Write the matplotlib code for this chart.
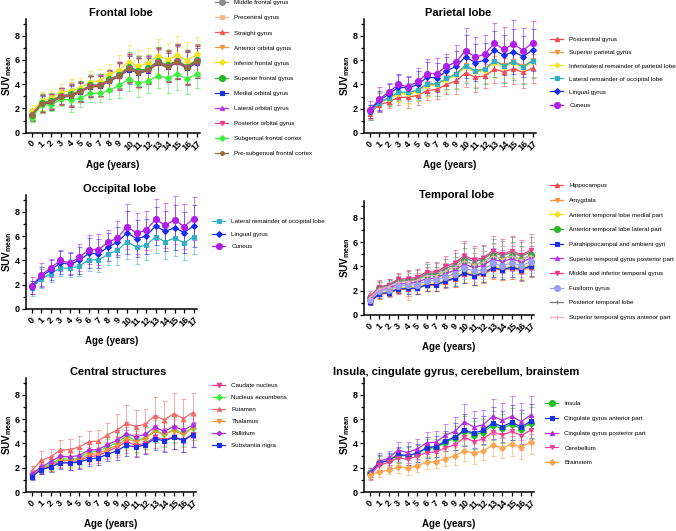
import matplotlib.pyplot as plt

plt.rcParams['font.family'] = ['Liberation Sans', 'DejaVu Sans']
plt.rcParams['mathtext.fontset'] = 'custom'
plt.rcParams['mathtext.rm'] = 'Liberation Sans'
plt.rcParams['mathtext.bf'] = 'Liberation Sans:bold'

ages = [0, 1, 2, 3, 4, 5, 6, 7, 8, 9, 10, 11, 12, 13, 14, 15, 16, 17]

# ---- Frontal lobe ----
frontal_labels = ["Middle frontal gyrus", "Precentral gyrus", "Straight gyrus",
                  "Anterior orbital gyrus", "Inferior frontal gyrus", "Superior frontal gyrus",
                  "Medial orbital gyrus", "Lateral orbital gyrus", "Posterior orbital gyrus",
                  "Subgenual frontal cortex", "Pre-subgenual frontal cortex"]
frontal_means = [
    [1.5, 2.45, 2.6, 3.05, 3.15, 3.4, 3.85, 3.9, 4.35, 4.75, 5.35, 5.05, 5.25, 5.85, 5.55, 5.9, 5.45, 5.95],
    [1.55, 2.5, 2.65, 3.1, 3.2, 3.45, 3.9, 3.95, 4.4, 4.8, 5.4, 5.1, 5.3, 5.85, 5.6, 5.95, 5.5, 6.0],
    [1.45, 2.4, 2.55, 3.0, 3.05, 3.35, 3.8, 3.85, 4.3, 4.65, 5.3, 5.0, 5.2, 5.8, 5.45, 5.85, 5.35, 5.85],
    [1.4, 2.35, 2.5, 2.95, 3.0, 3.3, 3.75, 3.8, 4.25, 4.6, 5.2, 4.9, 5.1, 5.7, 5.35, 5.75, 5.3, 5.75],
    [1.75, 2.6, 2.85, 3.35, 3.45, 3.7, 4.2, 4.3, 4.8, 5.15, 5.85, 5.5, 5.75, 6.35, 6.0, 6.4, 5.95, 6.45],
    [1.45, 2.45, 2.65, 3.05, 3.15, 3.45, 3.9, 3.95, 4.4, 4.75, 5.45, 5.1, 5.3, 5.9, 5.55, 5.95, 5.45, 6.0],
    [1.35, 2.35, 2.45, 2.95, 3.0, 3.35, 3.8, 3.85, 4.25, 4.65, 5.2, 4.95, 5.1, 5.75, 5.4, 5.8, 5.3, 5.75],
    [1.5, 2.4, 2.55, 3.0, 3.1, 3.4, 3.85, 3.9, 4.35, 4.7, 5.3, 5.0, 5.2, 5.8, 5.5, 5.85, 5.4, 5.85],
    [1.45, 2.4, 2.55, 3.0, 3.05, 3.35, 3.85, 3.9, 4.3, 4.7, 5.3, 4.95, 5.2, 5.8, 5.45, 5.9, 5.35, 5.9],
    [1.25, 2.25, 2.3, 2.75, 2.7, 2.85, 3.25, 3.25, 3.5, 3.9, 4.4, 4.1, 4.25, 4.7, 4.5, 4.8, 4.45, 4.8],
    [1.4, 2.4, 2.5, 2.95, 3.05, 3.35, 3.8, 3.85, 4.3, 4.65, 5.25, 4.95, 5.15, 5.75, 5.45, 5.85, 5.35, 5.85],
]
frontal_sd = [
    [0.45, 0.7, 0.6, 0.65, 0.95, 0.8, 0.85, 0.9, 0.8, 1.1, 1.15, 1.25, 1.1, 1.2, 1.25, 1.4, 1.4, 1.3],
    [0.5, 0.75, 0.65, 0.7, 0.95, 0.85, 0.9, 0.9, 0.85, 1.15, 1.2, 1.3, 1.15, 1.25, 1.3, 1.45, 1.4, 1.35],
    [0.45, 0.7, 0.6, 0.65, 0.9, 0.8, 0.85, 0.85, 0.8, 1.1, 1.15, 1.2, 1.1, 1.15, 1.2, 1.4, 1.35, 1.3],
    [0.45, 0.7, 0.6, 0.7, 0.9, 0.8, 0.85, 0.85, 0.85, 1.1, 1.1, 1.2, 1.1, 1.15, 1.2, 1.35, 1.35, 1.25],
    [0.5, 0.75, 0.6, 0.7, 0.95, 0.85, 0.9, 0.95, 0.85, 1.25, 1.35, 1.35, 1.25, 1.4, 1.4, 1.6, 1.5, 1.45],
    [0.4, 0.7, 0.6, 0.65, 0.9, 0.8, 0.85, 0.9, 0.8, 1.1, 1.2, 1.25, 1.1, 1.2, 1.25, 1.4, 1.4, 1.3],
    [0.4, 0.65, 0.55, 0.6, 0.85, 0.75, 0.85, 0.85, 0.8, 1.1, 1.15, 1.2, 1.05, 1.15, 1.2, 1.35, 1.35, 1.25],
    [0.45, 0.7, 0.6, 0.65, 0.9, 0.8, 0.85, 0.85, 0.8, 1.1, 1.15, 1.25, 1.1, 1.2, 1.25, 1.4, 1.4, 1.3],
    [0.45, 0.7, 0.6, 0.65, 0.9, 0.8, 0.85, 0.85, 0.8, 1.1, 1.15, 1.2, 1.1, 1.15, 1.25, 1.4, 1.35, 1.3],
    [0.35, 0.6, 0.5, 0.55, 1.0, 0.7, 0.7, 0.7, 0.7, 1.0, 1.0, 1.15, 1.0, 1.0, 1.2, 1.25, 1.25, 1.15],
    [0.45, 0.7, 0.6, 0.65, 0.9, 0.8, 0.85, 0.85, 0.8, 1.1, 1.15, 1.2, 1.1, 1.2, 1.25, 1.4, 1.4, 1.3],
]
frontal_colors = ['#8c8c8c', '#f6b88a', '#f25757', '#f7923a', '#f2e21b', '#23b523',
                  '#1c2fe8', '#bb33ee', '#f2368c', '#3cf03c', '#9a6a3a']
frontal_markers = ['o', 's', '^', 'v', 'D', 'o', 's', '^', 'v', 'D', 'h']

# ---- Parietal lobe ----
parietal_labels = ["Postcentral gyrus", "Superior parietal gyrus",
                   "Inferiolateral remainder of parietal lobe",
                   "Lateral remainder of occipital lobe", "Lingual gyrus", "Cuneus"]
parietal_means = [
    [1.6, 2.35, 2.55, 2.95, 2.95, 3.1, 3.5, 3.6, 4.0, 4.3, 4.95, 4.6, 4.7, 5.25, 5.05, 5.3, 5.0, 5.35],
    [1.7, 2.6, 2.9, 3.35, 3.3, 3.5, 4.0, 4.0, 4.5, 4.9, 5.6, 5.15, 5.3, 5.95, 5.6, 5.95, 5.5, 6.0],
    [1.7, 2.5, 2.8, 3.2, 3.2, 3.4, 3.9, 3.95, 4.4, 4.75, 5.45, 5.0, 5.15, 5.8, 5.45, 5.75, 5.35, 5.85],
    [1.7, 2.5, 2.9, 3.4, 3.35, 3.55, 4.05, 4.05, 4.5, 4.85, 5.55, 5.1, 5.25, 5.95, 5.55, 5.85, 5.45, 5.95],
    [1.8, 2.7, 3.2, 3.8, 3.7, 4.0, 4.6, 4.55, 5.1, 5.5, 6.3, 5.8, 6.0, 6.85, 6.4, 6.7, 6.3, 6.85],
    [1.9, 2.8, 3.4, 4.0, 3.8, 4.25, 4.9, 4.9, 5.5, 5.85, 6.8, 6.25, 6.5, 7.4, 6.9, 7.35, 6.8, 7.45],
]
parietal_sd = [
    [0.5, 0.65, 0.5, 0.6, 0.85, 0.75, 0.8, 0.8, 0.75, 1.1, 1.15, 1.2, 1.0, 1.1, 1.15, 1.3, 1.25, 1.2],
    [0.55, 0.75, 0.6, 0.7, 0.85, 0.85, 0.95, 0.95, 0.85, 1.2, 1.35, 1.35, 1.2, 1.3, 1.4, 1.45, 1.4, 1.4],
    [0.5, 0.7, 0.6, 0.65, 0.8, 0.8, 0.9, 0.9, 0.85, 1.15, 1.3, 1.3, 1.15, 1.25, 1.35, 1.4, 1.35, 1.35],
    [0.6, 0.8, 0.65, 0.7, 0.75, 0.85, 0.95, 1.0, 0.85, 1.2, 1.4, 1.4, 1.2, 1.3, 1.4, 1.45, 1.4, 1.4],
    [0.55, 0.8, 0.8, 0.95, 0.9, 1.15, 1.25, 1.2, 1.15, 1.25, 1.75, 1.55, 1.45, 1.55, 1.65, 1.85, 1.7, 1.7],
    [0.7, 1.0, 0.75, 0.9, 0.9, 1.15, 1.2, 1.25, 1.05, 1.4, 1.85, 1.7, 1.6, 1.7, 1.85, 1.95, 1.85, 1.75],
]
parietal_colors = ['#f24a4a', '#f7923a', '#f2e21b', '#2fb0c4', '#1a2cf0', '#b01ee8']
parietal_markers = ['^', 'v', 'P', 's', 'D', 'o']

# ---- Occipital lobe (same regions as the last three parietal entries) ----
occipital_labels = parietal_labels[3:]
occipital_means = parietal_means[3:]
occipital_sd = parietal_sd[3:]
occipital_colors = parietal_colors[3:]
occipital_markers = parietal_markers[3:]

# ---- Temporal lobe ----
temporal_labels = ["Hippocampus", "Amygdala", "Anterior temporal lobe medial part",
                   "Anterior temporal lobe lateral part", "Parahippocampal and ambient gyri",
                   "Superior temporal gyrus posterior part", "Middle and inferior temporal gyrus",
                   "Fusiform gyrus", "Posterior temporal lobe", "Superior temporal gyrus anterior part"]
temporal_means = [
    [1.1, 1.7, 1.8, 2.1, 2.15, 2.2, 2.45, 2.45, 2.75, 3.0, 3.4, 3.2, 3.35, 3.8, 3.7, 3.85, 3.65, 3.95],
    [1.2, 1.75, 1.9, 2.2, 2.2, 2.25, 2.5, 2.5, 2.8, 3.05, 3.5, 3.3, 3.45, 3.85, 3.75, 3.9, 3.7, 4.0],
    [1.25, 1.85, 1.95, 2.25, 2.3, 2.35, 2.6, 2.6, 2.95, 3.2, 3.6, 3.35, 3.55, 4.0, 3.85, 4.05, 3.85, 4.15],
    [1.4, 2.2, 2.4, 2.75, 2.8, 2.9, 3.3, 3.3, 3.65, 3.95, 4.45, 4.15, 4.35, 4.9, 4.6, 4.9, 4.55, 4.95],
    [1.05, 1.75, 1.85, 2.15, 2.2, 2.2, 2.5, 2.5, 2.8, 3.05, 3.45, 3.25, 3.45, 3.9, 3.75, 3.95, 3.75, 4.05],
    [1.35, 2.05, 2.2, 2.55, 2.6, 2.7, 3.0, 3.05, 3.4, 3.7, 4.2, 3.9, 4.1, 4.6, 4.4, 4.65, 4.35, 4.7],
    [1.5, 2.3, 2.5, 2.95, 3.0, 3.1, 3.55, 3.55, 4.0, 4.3, 4.9, 4.55, 4.7, 5.3, 5.0, 5.3, 4.95, 5.35],
    [1.2, 2.0, 2.1, 2.4, 2.45, 2.5, 2.8, 2.85, 3.15, 3.4, 3.9, 3.6, 3.75, 4.25, 4.05, 4.3, 4.05, 4.4],
    [1.45, 2.25, 2.45, 2.85, 2.9, 3.0, 3.4, 3.45, 3.85, 4.15, 4.75, 4.4, 4.6, 5.15, 4.9, 5.15, 4.85, 5.2],
    [1.4, 2.15, 2.35, 2.7, 2.75, 2.85, 3.25, 3.25, 3.65, 3.95, 4.45, 4.15, 4.35, 4.85, 4.6, 4.85, 4.55, 4.9],
]
temporal_sd = [
    [0.25, 0.35, 0.3, 0.4, 0.55, 0.45, 0.5, 0.5, 0.5, 0.65, 0.8, 0.75, 0.7, 0.8, 0.8, 0.85, 0.85, 0.85],
    [0.25, 0.4, 0.35, 0.4, 1.0, 0.5, 0.5, 0.55, 0.5, 0.7, 0.85, 0.8, 0.75, 0.8, 0.85, 0.9, 0.9, 0.9],
    [0.3, 0.4, 0.35, 0.4, 0.55, 0.5, 0.5, 0.55, 0.55, 0.7, 0.85, 0.8, 0.75, 0.85, 0.85, 0.9, 0.9, 0.9],
    [0.3, 0.5, 0.45, 0.5, 0.7, 0.6, 0.65, 0.65, 0.65, 0.85, 1.05, 0.95, 0.9, 1.0, 1.05, 1.1, 1.1, 1.1],
    [0.25, 0.35, 0.3, 0.35, 0.5, 0.45, 0.5, 0.5, 0.5, 0.65, 0.8, 0.75, 0.7, 0.8, 0.8, 0.85, 0.85, 0.85],
    [0.3, 0.45, 0.4, 0.45, 0.65, 0.55, 0.6, 0.6, 0.6, 0.8, 0.95, 0.9, 0.85, 0.95, 0.95, 1.0, 1.0, 1.0],
    [0.3, 0.55, 0.5, 0.5, 0.75, 0.7, 0.8, 0.8, 0.85, 1.05, 1.2, 1.15, 1.1, 1.25, 1.25, 1.25, 1.2, 1.3],
    [0.3, 0.4, 0.35, 0.4, 0.6, 0.5, 0.55, 0.55, 0.55, 0.75, 0.9, 0.85, 0.8, 0.85, 0.9, 0.95, 0.95, 0.95],
    [0.5, 0.55, 0.5, 0.55, 0.75, 0.7, 0.8, 0.8, 0.8, 1.0, 1.2, 1.1, 1.05, 1.15, 1.2, 1.25, 1.2, 1.25],
    [0.3, 0.5, 0.45, 0.5, 0.7, 0.6, 0.65, 0.65, 0.65, 0.85, 1.0, 0.95, 0.9, 1.0, 1.05, 1.1, 1.05, 1.1],
]
temporal_colors = ['#f24a4a', '#f7923a', '#f2e21b', '#23b523', '#1c2fe8', '#bb33ee',
                   '#f2368c', '#9aa0f5', '#7a7a7a', '#f7a8c8']
temporal_markers = ['^', 'v', 'D', 'o', 's', '^', 'v', 'o', '+', '+']

# ---- Central structures ----
central_labels = ["Caudate nucleus", "Nucleus accumbens", "Putamen", "Thalamus",
                  "Pallidum", "Substantia nigra"]
central_means = [
    [1.3, 1.9, 2.1, 2.5, 2.4, 2.55, 2.9, 3.0, 3.35, 3.7, 4.15, 3.85, 4.0, 4.55, 4.3, 4.55, 4.3, 4.75],
    [1.45, 2.0, 2.3, 2.75, 2.7, 2.8, 3.3, 3.35, 3.7, 4.05, 4.6, 4.25, 4.45, 5.1, 4.75, 5.15, 4.85, 5.3],
    [1.75, 2.6, 2.9, 3.45, 3.5, 3.7, 4.15, 4.2, 4.7, 5.1, 5.65, 5.4, 5.6, 6.3, 5.95, 6.45, 6.05, 6.55],
    [1.4, 1.95, 2.2, 2.6, 2.6, 2.65, 3.1, 3.15, 3.5, 3.85, 4.4, 4.15, 4.4, 5.0, 4.75, 5.05, 4.75, 5.25],
    [1.5, 2.05, 2.5, 2.95, 2.9, 3.0, 3.45, 3.5, 3.9, 4.25, 4.8, 4.55, 4.75, 5.35, 5.0, 5.4, 5.1, 5.5],
    [1.25, 1.85, 2.05, 2.4, 2.4, 2.45, 2.7, 2.8, 3.1, 3.4, 3.85, 3.7, 3.9, 4.4, 4.2, 4.5, 4.25, 4.7],
]
central_sd = [
    [0.25, 0.45, 0.4, 0.5, 0.6, 0.6, 0.6, 0.6, 0.6, 0.8, 0.95, 0.9, 0.8, 0.95, 0.95, 1.0, 1.0, 1.0],
    [0.3, 0.45, 0.45, 0.55, 0.65, 0.6, 0.65, 0.65, 0.65, 0.85, 1.0, 0.95, 0.9, 1.0, 1.0, 1.05, 1.05, 1.05],
    [0.4, 0.75, 0.65, 0.8, 0.85, 0.95, 0.9, 0.95, 0.95, 1.35, 1.5, 1.4, 1.25, 1.5, 1.55, 1.7, 1.65, 1.6],
    [0.3, 0.45, 0.45, 0.5, 0.6, 0.6, 0.6, 0.6, 0.6, 0.8, 0.95, 0.9, 0.85, 0.95, 0.95, 1.0, 1.0, 1.0],
    [0.3, 0.5, 0.5, 0.55, 0.65, 0.65, 0.65, 0.65, 0.65, 0.85, 1.0, 0.95, 0.9, 1.0, 1.0, 1.05, 1.05, 1.05],
    [0.25, 0.4, 0.4, 0.5, 0.55, 0.55, 0.55, 0.55, 0.55, 0.75, 0.9, 0.85, 0.8, 0.9, 0.9, 0.95, 0.95, 1.0],
]
central_colors = ['#f2368c', '#3cf03c', '#f56a6a', '#f7923a', '#b030e0', '#1c2fe8']
central_markers = ['v', 'D', '^', 'v', 'P', 's']

# ---- Insula, cingulate gyrus, cerebellum, brainstem ----
insula_labels = ["Insula", "Cingulate gyrus anterior part", "Cingulate gyrus posterior part",
                 "Cerebellum", "Brainstem"]
insula_means = [
    [1.6, 2.4, 2.6, 3.0, 3.0, 3.15, 3.6, 3.65, 4.1, 4.45, 5.05, 4.7, 4.95, 5.5, 5.25, 5.6, 5.2, 5.7],
    [1.45, 2.4, 2.6, 3.1, 3.0, 3.2, 3.65, 3.75, 4.2, 4.55, 5.1, 4.85, 5.1, 5.7, 5.4, 5.75, 5.35, 5.85],
    [1.6, 2.5, 2.8, 3.45, 3.25, 3.55, 4.05, 4.1, 4.7, 5.0, 5.8, 5.35, 5.55, 6.25, 5.9, 6.25, 5.8, 6.35],
    [1.35, 2.2, 2.45, 2.8, 2.7, 2.95, 3.25, 3.3, 3.65, 3.9, 4.5, 4.15, 4.4, 4.95, 4.7, 5.0, 4.65, 5.1],
    [1.4, 1.65, 1.8, 2.05, 2.0, 2.15, 2.45, 2.5, 2.75, 3.0, 3.4, 3.2, 3.4, 3.85, 3.65, 3.95, 3.7, 4.1],
]
insula_sd = [
    [0.35, 0.6, 0.55, 0.6, 0.75, 0.7, 0.75, 0.75, 0.75, 1.0, 1.2, 1.15, 1.05, 1.2, 1.2, 1.3, 1.3, 1.3],
    [0.4, 0.65, 0.6, 0.65, 0.8, 0.75, 0.85, 0.85, 0.85, 1.1, 1.3, 1.25, 1.15, 1.3, 1.3, 1.45, 1.4, 1.4],
    [0.4, 0.7, 0.6, 0.65, 0.85, 0.8, 0.9, 0.9, 0.9, 1.15, 1.45, 1.35, 1.25, 1.45, 1.45, 1.65, 1.55, 1.55],
    [0.35, 0.55, 0.5, 0.55, 0.7, 0.65, 0.7, 0.7, 0.75, 0.95, 1.1, 1.05, 1.0, 1.1, 1.1, 1.2, 1.15, 1.15],
    [0.35, 0.4, 0.35, 0.45, 0.6, 0.5, 0.55, 0.55, 0.6, 0.75, 0.85, 0.85, 0.8, 0.85, 0.85, 0.95, 0.95, 0.95],
]
insula_colors = ['#23c023', '#1c2fe8', '#b030e0', '#f2409a', '#f9a650']
insula_markers = ['o', 's', '^', 'v', 'D']

W, H = 676, 531
fig = plt.figure(figsize=(W / 100, H / 100), dpi=100)


def px_rect(left, top, right, bottom):
    return [left / W, 1 - bottom / H, (right - left) / W, (bottom - top) / H]


def draw_panel(rect, title, labels, means, sds, colors, markers, leg_xy, leg_space):
    ax = fig.add_axes(px_rect(*rect))
    width = rect[2] - rect[0]
    handles = []
    for lab, m, s, c, mk in zip(labels, means, sds, colors, markers):
        ms = 4.3 if mk == 'o' else 3.0
        line, caps, bars = ax.errorbar(ages, m, yerr=s, color=c, marker=mk, ms=ms,
                                       mew=0.8, lw=0.9, capsize=1.8, elinewidth=0.7,
                                       capthick=0.7)
        for artist in list(caps) + list(bars):
            artist.set_alpha(0.55)
        handles.append(line)
    ax.set_xlim(-0.6, 17.35)
    ax.set_ylim(0, 9.4)
    ax.set_xticks(ages)
    ax.set_xticklabels([str(a) for a in ages], rotation=45, fontweight='bold')
    ax.set_yticks([0, 2, 4, 6, 8])
    ax.set_yticks([1, 3, 5, 7, 9], minor=True)
    for lbl in ax.get_yticklabels():
        lbl.set_fontweight('bold')
    ax.tick_params(axis='both', which='major', direction='out', length=3, width=0.9,
                   labelsize=6.5, pad=1.5)
    ax.tick_params(axis='y', which='minor', direction='out', length=2, width=0.9)
    for side in ['top', 'right']:
        ax.spines[side].set_visible(False)
    for side in ['left', 'bottom']:
        ax.spines[side].set_linewidth(1.1)
    ax.set_title(title, fontsize=8, fontweight='bold', x=0.545, pad=2)
    ax.set_xlabel('Age (years)', fontsize=7, fontweight='bold', labelpad=5)
    ax.set_ylabel('SUV$_{\\mathbf{mean}}$', fontsize=7.2, fontweight='bold')
    # y label right edge sits about 12 px left of the axis line
    ax.yaxis.set_label_coords(-12.0 / width, 0.5)
    ax.legend(handles, labels, loc='upper left',
              bbox_to_anchor=(leg_xy[0] / W, 1 - leg_xy[1] / H),
              bbox_transform=fig.transFigure, frameon=False, fontsize=4.5,
              borderpad=0, borderaxespad=0, handlelength=2.1, handletextpad=1.0,
              labelspacing=leg_space, numpoints=1)
    return ax


draw_panel((26, 18.7, 200, 132.7), 'Frontal lobe', frontal_labels, frontal_means,
           frontal_sd, frontal_colors, frontal_markers, (215, 0), 1.55)
draw_panel((364, 19, 536, 133), 'Parietal lobe', parietal_labels, parietal_means,
           parietal_sd, parietal_colors, parietal_markers, (550, 37), 1.23)
draw_panel((26, 195, 197, 309), 'Occipital lobe', occipital_labels, occipital_means,
           occipital_sd, occipital_colors, occipital_markers, (212, 219), 1.13)
draw_panel((364, 201, 534, 315), 'Temporal lobe', temporal_labels, temporal_means,
           temporal_sd, temporal_colors, temporal_markers, (550, 183), 1.48)
draw_panel((26, 378, 196, 492), 'Central structures', central_labels, central_means,
           central_sd, central_colors, central_markers, (212, 383), 1.04)
draw_panel((364, 378, 534, 492), 'Insula, cingulate gyrus, cerebellum, brainstem',
           insula_labels, insula_means, insula_sd, insula_colors, insula_markers,
           (545, 401), 1.5)

fig.savefig('out.png', dpi=100)
